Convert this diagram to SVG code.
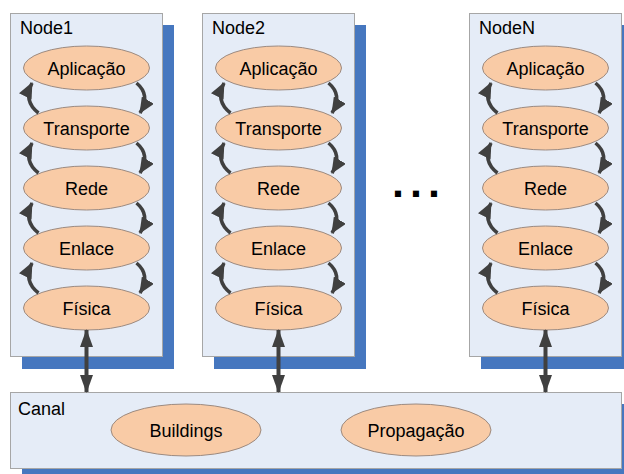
<svg xmlns="http://www.w3.org/2000/svg" width="624" height="474" viewBox="0 0 624 474">
<style>
.shadow{fill:#4677bf}
.box{fill:#e5ecf7;stroke:#a6a6a6;stroke-width:1}
.layer{fill:#f9cba6;stroke:#9c8a80;stroke-width:1}
.t{font-family:"Liberation Sans",Arial,sans-serif;font-size:18px;fill:#000}
.c{text-anchor:middle}
.cur{fill:none;stroke:#404040;stroke-width:3.5;marker-end:url(#ah)}
.dbl{fill:none;stroke:#404040;stroke-width:4;marker-start:url(#vh);marker-end:url(#vh)}
</style>
<defs>
<marker id="ah" viewBox="0 0 16 14" refX="15" refY="7" markerWidth="16" markerHeight="14" markerUnits="userSpaceOnUse" orient="auto">
<path d="M0,0 L16,7 L0,14 z" fill="#404040"/>
</marker>
<marker id="vh" viewBox="0 0 18 13" refX="17" refY="6.5" markerWidth="18" markerHeight="13" markerUnits="userSpaceOnUse" orient="auto-start-reverse">
<path d="M0,0 L18,6.5 L0,13 z" fill="#404040"/>
</marker>
</defs>

<g id="canal">
<rect class="shadow" x="22" y="404" width="612" height="77"/>
<rect class="box" x="10.5" y="392.5" width="611" height="76"/>
<text class="t" x="18" y="415">Canal</text>
</g>
<g id="buildings">
<ellipse class="layer" cx="186" cy="430" rx="75" ry="26"/>
<text class="t c" x="186" y="437">Buildings</text>
</g>
<g id="propagacao">
<ellipse class="layer" cx="416" cy="430" rx="75" ry="26"/>
<text class="t c" x="416" y="437">Propagação</text>
</g>

<g id="node1">
<rect class="shadow" x="22" y="25" width="152" height="344"/>
<rect class="box" x="10.5" y="13.5" width="152" height="343"/>
<text class="t" x="20" y="34">Node1</text>
<ellipse class="layer" cx="86.5" cy="68" rx="63" ry="22"/><text class="t c" x="86.5" y="74.5">Aplicação</text>
<ellipse class="layer" cx="86.5" cy="128" rx="63" ry="22"/><text class="t c" x="86.5" y="134.5">Transporte</text>
<ellipse class="layer" cx="86.5" cy="188" rx="63" ry="22"/><text class="t c" x="86.5" y="194.5">Rede</text>
<ellipse class="layer" cx="86.5" cy="248" rx="63" ry="22"/><text class="t c" x="86.5" y="254.5">Enlace</text>
<ellipse class="layer" cx="86.5" cy="308" rx="63" ry="22"/><text class="t c" x="86.5" y="314.5">Física</text>
</g>

<g id="node2">
<rect class="shadow" x="214" y="25" width="152" height="344"/>
<rect class="box" x="202.5" y="13.5" width="152" height="343"/>
<text class="t" x="212" y="34">Node2</text>
<ellipse class="layer" cx="278.5" cy="68" rx="63" ry="22"/><text class="t c" x="278.5" y="74.5">Aplicação</text>
<ellipse class="layer" cx="278.5" cy="128" rx="63" ry="22"/><text class="t c" x="278.5" y="134.5">Transporte</text>
<ellipse class="layer" cx="278.5" cy="188" rx="63" ry="22"/><text class="t c" x="278.5" y="194.5">Rede</text>
<ellipse class="layer" cx="278.5" cy="248" rx="63" ry="22"/><text class="t c" x="278.5" y="254.5">Enlace</text>
<ellipse class="layer" cx="278.5" cy="308" rx="63" ry="22"/><text class="t c" x="278.5" y="314.5">Física</text>
</g>

<g id="nodeN">
<rect class="shadow" x="481" y="25" width="152" height="344"/>
<rect class="box" x="469.5" y="13.5" width="152" height="343"/>
<text class="t" x="479" y="34">NodeN</text>
<ellipse class="layer" cx="545.5" cy="68" rx="63" ry="22"/><text class="t c" x="545.5" y="74.5">Aplicação</text>
<ellipse class="layer" cx="545.5" cy="128" rx="63" ry="22"/><text class="t c" x="545.5" y="134.5">Transporte</text>
<ellipse class="layer" cx="545.5" cy="188" rx="63" ry="22"/><text class="t c" x="545.5" y="194.5">Rede</text>
<ellipse class="layer" cx="545.5" cy="248" rx="63" ry="22"/><text class="t c" x="545.5" y="254.5">Enlace</text>
<ellipse class="layer" cx="545.5" cy="308" rx="63" ry="22"/><text class="t c" x="545.5" y="314.5">Física</text>
</g>

<g id="dots">
<text x="392" y="197" style="font-family:'Liberation Sans',Arial,sans-serif;font-weight:bold;font-size:43px;letter-spacing:6px;fill:#000">...</text>
</g>

<g id="connectors">
<g>
<path class="cur" d="M38.5,113 Q23,101 32,83"/>
<path class="cur" d="M38.5,173 Q23,161 32,143"/>
<path class="cur" d="M38.5,233 Q23,221 32,203"/>
<path class="cur" d="M38.5,293 Q23,281 32,263"/>
<path class="cur" d="M136.5,83 Q151,95 140,113"/>
<path class="cur" d="M136.5,143 Q151,155 140,173"/>
<path class="cur" d="M136.5,203 Q151,215 140,233"/>
<path class="cur" d="M136.5,263 Q151,275 140,293"/>
</g>
<g transform="translate(192,0)">
<path class="cur" d="M38.5,113 Q23,101 32,83"/>
<path class="cur" d="M38.5,173 Q23,161 32,143"/>
<path class="cur" d="M38.5,233 Q23,221 32,203"/>
<path class="cur" d="M38.5,293 Q23,281 32,263"/>
<path class="cur" d="M136.5,83 Q151,95 140,113"/>
<path class="cur" d="M136.5,143 Q151,155 140,173"/>
<path class="cur" d="M136.5,203 Q151,215 140,233"/>
<path class="cur" d="M136.5,263 Q151,275 140,293"/>
</g>
<g transform="translate(459,0)">
<path class="cur" d="M38.5,113 Q23,101 32,83"/>
<path class="cur" d="M38.5,173 Q23,161 32,143"/>
<path class="cur" d="M38.5,233 Q23,221 32,203"/>
<path class="cur" d="M38.5,293 Q23,281 32,263"/>
<path class="cur" d="M136.5,83 Q151,95 140,113"/>
<path class="cur" d="M136.5,143 Q151,155 140,173"/>
<path class="cur" d="M136.5,203 Q151,215 140,233"/>
<path class="cur" d="M136.5,263 Q151,275 140,293"/>
</g>
<path class="dbl" d="M86.5,330 L86.5,392"/>
<path class="dbl" d="M278.5,330 L278.5,392"/>
<path class="dbl" d="M545.5,330 L545.5,392"/>
</g>
</svg>
